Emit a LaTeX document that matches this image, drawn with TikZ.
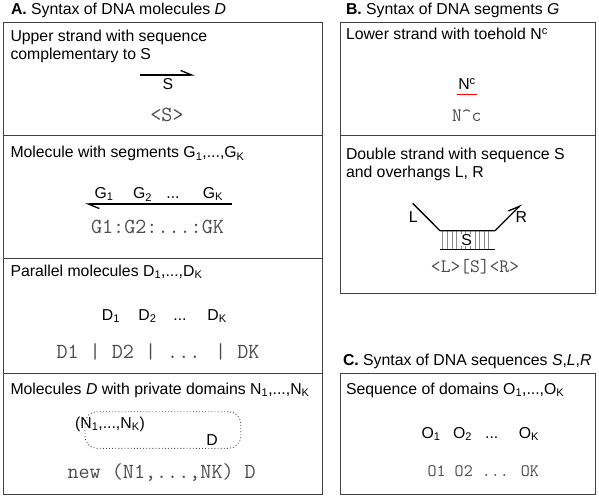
\documentclass[tikz,border=0pt]{standalone}
\usepackage{fontspec}
\setmainfont{Liberation Sans}
\usetikzlibrary{arrows.meta}
\begin{document}
\begin{tikzpicture}[x=1pt,y=-1pt,
  every node/.style={inner sep=0pt, outer sep=0pt},
  frame/.style={draw=black!75, line width=0.8pt},
  txt/.style={anchor=base west, font=\fontsize{15.8}{18.5}\selectfont},
  lbl/.style={anchor=base, font=\fontsize{15.8}{18.5}\selectfont},
  code/.style={anchor=base, font=\fontsize{21.5}{23}\ttfamily, text=black!70},
  codeB/.style={code, font=\fontsize{19}{21}\ttfamily},
  codeC/.style={code, font=\fontsize{17.5}{20}\ttfamily},
  strand/.style={line width=1.3pt},
  harp/.style={-{Straight Barb[left,length=11pt,width=9pt]}},
  hatch/.style={draw=black!45, line width=0.6pt},
]
\useasboundingbox (0,0) rectangle (599,497);

% ---------- panel titles ----------
\node[txt] (tA) at (11,15) {\textbf{A.} Syntax of DNA molecules \textit{D}};
\node[txt] (tB) at (346,15) {\textbf{B.} Syntax of DNA segments \textit{G}};
\node[txt] (tC) at (343,365) {\textbf{C.} Syntax of DNA sequences \textit{S},\textit{L},\textit{R}};

% ---------- frames ----------
\draw[frame] (3,22) rectangle (322,494);
\draw[frame] (3,135) -- (322,135);
\draw[frame] (3,258) -- (322,258);
\draw[frame] (3,373) -- (322,373);
\draw[frame] (340,22) rectangle (595,293);
\draw[frame] (340,135) -- (595,135);
\draw[frame] (340,373) rectangle (595,494);

% ---------- A: upper strand ----------
\node[txt] (a1h1) at (10.5,41.5) {Upper strand with sequence};
\node[txt] (a1h2) at (10.5,60) {complementary to S};
\coordinate (s1a) at (140,75);
\coordinate (s1b) at (195,75);
\draw[strand,harp] (s1a) -- (s1b);
\node[lbl] (s1l) at (168,90) {S};
\node[code] (s1c) at (167,121.7) {<S>};

% ---------- A: molecule with segments ----------
\node[txt] (a2h) at (10.5,158) {Molecule with segments G\textsubscript{1},...,G\textsubscript{K}};
\coordinate (g2a) at (231.7,204);
\coordinate (g2b) at (85,204);
\draw[strand,harp] (g2a) -- (g2b);
\node[lbl] (g1) at (104,198.3) {G\textsubscript{1}};
\node[lbl] (g2) at (142.5,198.3) {G\textsubscript{2}};
\node[lbl] (gd) at (173,198.3) {...};
\node[lbl] (gk) at (213,198.3) {G\textsubscript{K}};
\node[code] (g2c) at (157.5,233.3) {G1:G2:...:GK};

% ---------- A: parallel molecules ----------
\node[txt] (a3h) at (10.5,276) {Parallel molecules D\textsubscript{1},...,D\textsubscript{K}};
\node[lbl] (d1) at (111,320) {D\textsubscript{1}};
\node[lbl] (d2) at (147.5,320) {D\textsubscript{2}};
\node[lbl] (dd) at (180,320) {...};
\node[lbl] (dk) at (217,320) {D\textsubscript{K}};
\node[code] (d3c) at (158,358.3) {D1 | D2 | ... | DK};

% ---------- A: private domains ----------
\node[txt] (a4h) at (10.5,394) {Molecules \textit{D} with private domains N\textsubscript{1},...,N\textsubscript{K}};
\draw[black!70, line width=0.9pt, dash pattern=on 0.9pt off 2.2pt, rounded corners=12pt] (85,411.7) rectangle (240.7,448.3);
\node[lbl] (nn) at (110,428.3) {(N\textsubscript{1},...,N\textsubscript{K})};
\node[lbl] (nd) at (212,445) {D};
\node[code] (n4c) at (161.7,478.3) {new (N1,...,NK) D};

% ---------- B: toehold ----------
\node[txt] (b1h) at (346,40) {Lower strand with toehold N\textsuperscript{c}};
\node[lbl] (nc) at (467,89.3) {N\textsuperscript{c}};
\coordinate (ua) at (456.7,94.3);
\coordinate (ub) at (476.7,94.3);
\draw[red, line width=1.5pt] (ua) -- (ub);
\node[codeB] (b1c) at (466.7,121.7) {N\textasciicircum c};

% ---------- B: double strand ----------
\node[txt] (b2h1) at (346,160) {Double strand with sequence S};
\node[txt] (b2h2) at (346,177.5) {and overhangs L, R};
\coordinate (Lend) at (412.7,203.3);
\coordinate (tl) at (440,230.7);
\coordinate (tr) at (495,230.7);
\coordinate (Rend) at (521.7,204);
\coordinate (bl) at (440,249.3);
\coordinate (br) at (495,249.3);
\foreach \hx in {442.7,447.3,...,493}
  \draw[hatch] (\hx,230.7) -- (\hx,249.3);
\node[lbl, anchor=center, fill=white, inner sep=0.6pt] (ds) at (466.7,240) {S};
\draw[strand] (Lend) -- (tl) -- (tr);
\draw[strand,harp] (tr) -- (Rend);
\draw[strand] (bl) -- (br);
\node[lbl, anchor=center] (dl) at (413.3,217.2) {L};
\node[lbl, anchor=center] (dr) at (521.3,217.2) {R};
\node[codeB] (b2c) at (475,272.7) {<L>[S]<R>};

% ---------- C: sequence of domains ----------
\node[txt] (c1h) at (346,394) {Sequence of domains O\textsubscript{1},...,O\textsubscript{K}};
\node[lbl] (o1) at (431,438) {O\textsubscript{1}};
\node[lbl] (o2) at (462.5,438) {O\textsubscript{2}};
\node[lbl] (od) at (491.7,438) {...};
\node[lbl] (ok) at (529,438) {O\textsubscript{K}};
\node[codeC] (c1c) at (483.3,476) {O1 O2 ... OK};
\end{tikzpicture}
\end{document}
